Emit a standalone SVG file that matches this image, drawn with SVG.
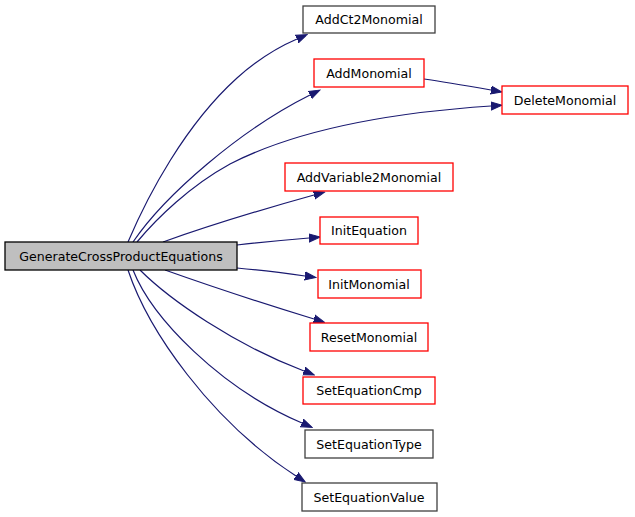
<svg xmlns="http://www.w3.org/2000/svg" width="635" height="517" viewBox="0 0 635 517">
<defs>
<marker id="arr" markerUnits="userSpaceOnUse" markerWidth="12" markerHeight="10" refX="0" refY="4" orient="auto" viewBox="0 0 12 8">
<path d="M0,0 L11,4 L0,8 Z" fill="#191970" stroke="#191970" stroke-width="1"/>
</marker>
<style>
.n rect{fill:#ffffff;stroke-width:1.3}
.blk rect{stroke:#404040}
.red rect{stroke:#ff0000}
.main rect{fill:#bfbfbf;stroke:#000000}
text{font-family:"DejaVu Sans","Liberation Sans",sans-serif;font-size:12.6px;fill:#000000;text-anchor:middle}
#edges path{fill:none;stroke:#191970;stroke-width:1.2;marker-end:url(#arr)}
</style>
</defs>
<rect width="635" height="517" fill="#ffffff"/>
<g id="edges">
<path d="M128,242 C148,195 185,125 237,78 C256,61 276,48 297,39"/>
<path d="M133,242 C165,195 240,130 310,95"/>
<path d="M424,79 C445,82 468,86 491,90"/>
<path d="M137,242 C157,218 190,186 230,164 C300,128 400,112 491,106"/>
<path d="M163,242 C205,227 260,210 314,195"/>
<path d="M237,245 C255,243 285,240 309,238"/>
<path d="M237,268 C258,270 283,273 305,276"/>
<path d="M165,270 C210,286 265,304 314,319"/>
<path d="M140,270 C170,300 235,345 304,371"/>
<path d="M133,270 C152,318 220,388 302,423"/>
<path d="M128,270 C148,330 210,420 296,476"/>
</g>
<g id="GenerateCrossProductEquations" class="n main"><rect x="5" y="242" width="232" height="28"/><text x="121" y="260.5">GenerateCrossProductEquations</text></g>
<g id="AddCt2Monomial" class="n blk"><rect x="303" y="6" width="132" height="27"/><text x="369" y="24">AddCt2Monomial</text></g>
<g id="AddMonomial" class="n red"><rect x="314" y="59" width="110" height="28"/><text x="369" y="77.5">AddMonomial</text></g>
<g id="DeleteMonomial" class="n red"><rect x="502" y="86" width="126" height="28"/><text x="565" y="104.5">DeleteMonomial</text></g>
<g id="AddVariable2Monomial" class="n red"><rect x="285" y="163" width="168" height="28"/><text x="369" y="181.5">AddVariable2Monomial</text></g>
<g id="InitEquation" class="n red"><rect x="320" y="217" width="98" height="27"/><text x="369" y="235">InitEquation</text></g>
<g id="InitMonomial" class="n red"><rect x="318" y="270" width="103" height="28"/><text x="369" y="288.5">InitMonomial</text></g>
<g id="ResetMonomial" class="n red"><rect x="310" y="323" width="118" height="28"/><text x="369" y="341.5">ResetMonomial</text></g>
<g id="SetEquationCmp" class="n red"><rect x="303" y="377" width="132" height="27"/><text x="369" y="395">SetEquationCmp</text></g>
<g id="SetEquationType" class="n blk"><rect x="305" y="430" width="128" height="28"/><text x="369" y="448.5">SetEquationType</text></g>
<g id="SetEquationValue" class="n blk"><rect x="302" y="483" width="135" height="28"/><text x="369" y="501.5">SetEquationValue</text></g>
</svg>
